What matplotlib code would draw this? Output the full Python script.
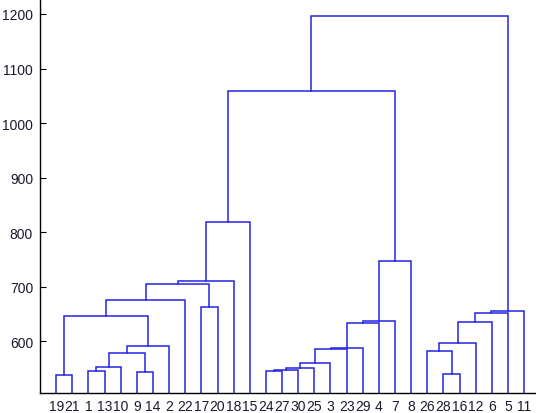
import numpy as np
import matplotlib
matplotlib.use('Agg')
import matplotlib.pyplot as plt

# leaf labels, left to right
leaf_labels = [19, 21, 1, 13, 10, 9, 14, 2, 22, 17, 20, 18, 15,
               24, 27, 30, 25, 3, 23, 29, 4, 7, 8,
               26, 28, 16, 12, 6, 5, 11]

# merges: leaves are 1..30 by label, new clusters get ids 31, 32, ... in this order
merge_left = [19, 1, 32, 9, 33, 35, 31, 37, 17, 38, 40, 41,
              24, 43, 44, 45, 46, 47, 48, 49, 50, 42,
              28, 26, 54, 55, 56, 57, 52]
merge_right = [21, 13, 10, 14, 34, 2, 36, 22, 20, 39, 18, 15,
               27, 30, 25, 3, 23, 29, 4, 7, 8, 51,
               16, 53, 12, 6, 5, 11, 58]
merge_height = [538.2, 545.0, 553.4, 543.2, 579.1, 591.9, 646.4, 676.3, 663.4, 704.5, 710.0, 819.3,
                 545.6, 547.4, 551.1, 560.2, 585.3, 587.2, 634.1, 637.2, 747.8, 1059.4,
                 540.6, 582.8, 596.3, 635.9, 652.4, 655.0, 1196.9]

y_ticks = [600, 700, 800, 900, 1000, 1100, 1200]

n = len(leaf_labels)
pos = {lab: i + 1 for i, lab in enumerate(leaf_labels)}
ht = {lab: None for lab in leaf_labels}

fig = plt.figure(figsize=(5.36, 4.14), dpi=100)
ax = fig.add_axes([40 / 536, 20 / 414, 500.3 / 536, 394 / 414])

line_col = '#2323e6'
base = 505
for k, (a, b, h) in enumerate(zip(merge_left, merge_right, merge_height)):
    xa, xb = pos[a], pos[b]
    ya = ht[a] if ht[a] is not None else base
    yb = ht[b] if ht[b] is not None else base
    ax.plot([xa, xa, xb, xb], [ya, h, h, yb], color=line_col, lw=1.1,
            solid_joinstyle='miter', clip_on=False)
    cid = n + 1 + k
    pos[cid] = (xa + xb) / 2
    ht[cid] = h

ax.set_xlim(0, n + 1)
ax.set_ylim(base, 1227.5)
ax.set_xticks(range(1, n + 1))
ax.set_xticklabels([str(v) for v in leaf_labels])
ax.set_yticks(y_ticks)
ax.tick_params(axis='x', length=0, pad=4, labelsize=10, labelcolor='#1a1a2e')
ax.tick_params(axis='y', direction='in', length=4, pad=5, labelsize=10, labelcolor='#1a1a2e')
for lbl in ax.get_xticklabels() + ax.get_yticklabels():
    lbl.set_family('Liberation Sans')
ax.spines['top'].set_visible(False)
ax.spines['right'].set_visible(False)
ax.spines['left'].set_linewidth(1.0)
ax.spines['bottom'].set_linewidth(1.0)

fig.savefig('out.png', dpi=100)
